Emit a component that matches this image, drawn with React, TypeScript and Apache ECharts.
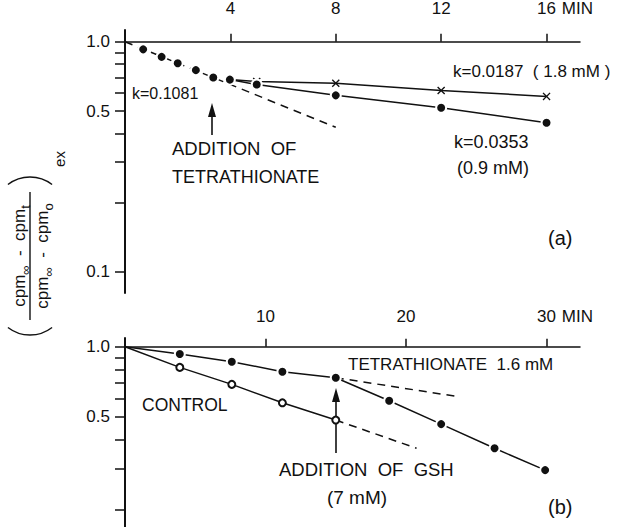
import React, { useEffect, useRef } from "react";
import * as echarts from "echarts";

const FONT = "'Liberation Sans', Arial, sans-serif";
const INK = "#111";

// ---------- Panel (a) ----------
const aInitT = [0.69, 1.39, 2.0, 2.69, 3.35, 3.98];
const aInitV = [0.927, 0.86, 0.807, 0.753, 0.7, 0.685];
const aFitT = [0, 8];
const aFitV = [1.0, 0.425];
const aHighT = [3.98, 5, 8, 12, 16]; // tetrathionate 1.8 mM (x)
const aHighV = [0.685, 0.672, 0.66, 0.614, 0.579];
const aLowT = [3.98, 5, 8, 12, 16]; // tetrathionate 0.9 mM (filled)
const aLowV = [0.685, 0.652, 0.585, 0.517, 0.445];

// ---------- Panel (b) ----------
const bTetraT = [0, 3.9, 7.6, 11.2, 15, 18.8, 22.5, 26.3, 29.9];
const bTetraV = [1.0, 0.93, 0.862, 0.781, 0.736, 0.586, 0.465, 0.366, 0.295];
const bCtrlT = [0, 3.9, 7.6, 11.2, 15];
const bCtrlV = [1.0, 0.815, 0.689, 0.574, 0.484];
const bTetraExtT = [15, 23.8];
const bTetraExtV = [0.736, 0.609];
const bCtrlExtT = [15, 20.75];
const bCtrlExtV = [0.484, 0.366];

// ---------- Axes ----------
const yTicksA = [0.1, 0.2, 0.3, 0.4, 0.5, 0.6, 0.7, 0.8, 0.9, 1.0];
const yTicksB = [0.2, 0.3, 0.4, 0.5, 0.6, 0.7, 0.8, 0.9, 1.0];
const yLabelsA = [0.1, 0.5, 1.0];
const yLabelsB = [0.5, 1.0];
const xTicksA = [4, 8, 12, 16];
const xTicksB = [10, 20, 30];
const xUnitA = 16;
const xUnitB = 30;

const lg = (v: number) => Math.log10(v);
const pts = (ts: number[], vs: number[]) => ts.map((t, i) => [t, lg(vs[i])]);

const XSYM =
  "path://M0,1.2 L1.2,0 L5,3.8 L8.8,0 L10,1.2 L6.2,5 L10,8.8 L8.8,10 L5,6.2 L1.2,10 L0,8.8 L3.8,5 Z";

function xAxisCfg(gridIndex: number, max: number, ticks: number[], unit: number) {
  return {
    type: "value",
    gridIndex,
    position: "top",
    min: 0,
    max,
    axisLine: { show: true, onZero: true, lineStyle: { color: INK, width: 1.5 } },
    axisTick: {
      show: true,
      inside: false,
      length: 8,
      customValues: ticks,
      lineStyle: { color: INK, width: 1.5 },
    },
    axisLabel: {
      customValues: ticks,
      margin: 13,
      color: INK,
      fontSize: 17,
      fontFamily: FONT,
      formatter: (v: number) =>
        Math.abs(v - unit) < 1e-6 ? `{p|}{n|${v}}{m| MIN}` : `${v}`,
      rich: {
        p: { width: 38, fontSize: 17, fontFamily: FONT },
        n: { fontSize: 17, fontFamily: FONT, color: INK },
        m: { width: 38, fontSize: 17, fontFamily: FONT, color: INK },
      },
    },
    splitLine: { show: false },
  };
}

function yAxisCfg(gridIndex: number, min: number, max: number, ticks: number[], labels: number[]) {
  return {
    type: "value",
    gridIndex,
    min,
    max,
    axisLine: { show: true, onZero: false, lineStyle: { color: INK, width: 2 } },
    axisTick: {
      show: true,
      length: 10,
      customValues: ticks.map(lg),
      lineStyle: { color: INK, width: 1.5 },
    },
    axisLabel: {
      customValues: labels.map(lg),
      margin: 15,
      color: INK,
      fontSize: 17,
      fontFamily: FONT,
      formatter: (v: number) => Math.pow(10, v).toFixed(1),
    },
    splitLine: { show: false },
  };
}

const solid = { color: INK, width: 1.5, type: "solid" as const };
const dashed = { color: INK, width: 1.5, type: [8, 6] };
const dotStyle = { color: INK, borderColor: "#fff", borderWidth: 2, opacity: 1 };

function txt(text: string, x: number, y: number, size: number, align = "left") {
  return {
    type: "text",
    x,
    y,
    z: 10,
    style: {
      text,
      fill: INK,
      font: `${size}px ${FONT}`,
      align,
      verticalAlign: "middle",
    },
  };
}

function arrow(x: number, tipY: number, tailY: number) {
  return [
    {
      type: "line",
      z: 1,
      shape: { x1: x, y1: tipY + 10, x2: x, y2: tailY },
      style: { stroke: INK, lineWidth: 1.6 },
    },
    {
      type: "polygon",
      z: 1,
      shape: { points: [[x, tipY], [x - 4, tipY + 14], [x + 4, tipY + 14]] },
      style: { fill: INK },
    },
  ];
}

export default function App() {
  const ref = useRef<HTMLDivElement>(null);
  useEffect(() => {
    if (!ref.current) return;
    const chart = echarts.init(ref.current, null, { renderer: "svg" });
    const hideFirst = (d: number[][]) =>
      d.map((p, i) => (i === 0 ? { value: p, symbol: "none" } : { value: p }));

    const option = {
      animation: false,
      backgroundColor: "#fff",
      textStyle: { fontFamily: FONT },
      grid: [
        { left: 125, top: 27, width: 455, height: 266 },
        { left: 125, top: 338, width: 455, height: 189 },
      ],
      xAxis: [xAxisCfg(0, 17.27, xTicksA, xUnitA), xAxisCfg(1, 32.38, xTicksB, xUnitB)],
      yAxis: [
        yAxisCfg(0, lg(0.081), lg(1.125), yTicksA, yLabelsA),
        yAxisCfg(1, lg(0.168), lg(1.09), yTicksB, yLabelsB),
      ],
      series: [
        // panel (a)
        {
          type: "line",
          xAxisIndex: 0,
          yAxisIndex: 0,
          data: pts(aFitT, aFitV),
          symbol: "none",
          lineStyle: dashed,
          z: 1,
        },
        {
          type: "line",
          xAxisIndex: 0,
          yAxisIndex: 0,
          data: hideFirst(pts(aHighT, aHighV)),
          symbol: XSYM,
          symbolSize: 8,
          showAllSymbol: true,
          itemStyle: { color: INK, opacity: 1 },
          lineStyle: solid,
          z: 2,
        },
        {
          type: "line",
          xAxisIndex: 0,
          yAxisIndex: 0,
          data: hideFirst(pts(aLowT, aLowV)),
          symbol: "circle",
          symbolSize: 10,
          showAllSymbol: true,
          itemStyle: dotStyle,
          lineStyle: solid,
          z: 3,
        },
        {
          type: "scatter",
          xAxisIndex: 0,
          yAxisIndex: 0,
          data: pts(aInitT, aInitV),
          symbol: "circle",
          symbolSize: 10,
          itemStyle: dotStyle,
          z: 4,
        },
        // panel (b)
        {
          type: "line",
          xAxisIndex: 1,
          yAxisIndex: 1,
          data: pts(bTetraExtT, bTetraExtV),
          symbol: "none",
          lineStyle: dashed,
          z: 1,
        },
        {
          type: "line",
          xAxisIndex: 1,
          yAxisIndex: 1,
          data: pts(bCtrlExtT, bCtrlExtV),
          symbol: "none",
          lineStyle: dashed,
          z: 1,
        },
        {
          type: "line",
          xAxisIndex: 1,
          yAxisIndex: 1,
          data: hideFirst(pts(bTetraT, bTetraV)),
          symbol: "circle",
          symbolSize: 10,
          showAllSymbol: true,
          itemStyle: dotStyle,
          lineStyle: solid,
          z: 3,
        },
        {
          type: "line",
          xAxisIndex: 1,
          yAxisIndex: 1,
          data: hideFirst(pts(bCtrlT, bCtrlV)),
          symbol: "emptyCircle",
          symbolSize: 7,
          showAllSymbol: true,
          itemStyle: { color: INK, borderColor: INK, borderWidth: 1.4, opacity: 1 },
          lineStyle: solid,
          z: 3,
        },
      ],
      graphic: [
        // y-axis title (rotated fraction)
        {
          type: "text",
          x: 19,
          y: 256,
          rotation: Math.PI / 2,
          style: {
            text: "cpm{s|∞}  -  cpm{s|t}",
            fill: INK,
            font: `17px ${FONT}`,
            align: "center",
            verticalAlign: "middle",
            rich: {
              s: { fontSize: 13, fontFamily: FONT, fill: INK, verticalAlign: "bottom", lineHeight: 26 },
            },
          },
        },
        {
          type: "line",
          shape: { x1: 30, y1: 192, x2: 30, y2: 320 },
          style: { stroke: INK, lineWidth: 1.4 },
        },
        {
          type: "text",
          x: 42,
          y: 256,
          rotation: Math.PI / 2,
          style: {
            text: "cpm{s|∞}  -  cpm{s|o}",
            fill: INK,
            font: `17px ${FONT}`,
            align: "center",
            verticalAlign: "middle",
            rich: {
              s: { fontSize: 13, fontFamily: FONT, fill: INK, verticalAlign: "bottom", lineHeight: 26 },
            },
          },
        },
        {
          type: "arc",
          shape: { cx: 30, cy: 299, r: 36, startAngle: Math.PI / 2 - 0.66, endAngle: Math.PI / 2 + 0.66 },
          style: { stroke: INK, lineWidth: 1.4, fill: null },
        },
        {
          type: "arc",
          shape: { cx: 30, cy: 213, r: 36, startAngle: (3 * Math.PI) / 2 - 0.66, endAngle: (3 * Math.PI) / 2 + 0.66 },
          style: { stroke: INK, lineWidth: 1.4, fill: null },
        },
        {
          type: "text",
          x: 59,
          y: 159,
          rotation: Math.PI / 2,
          style: { text: "ex", fill: INK, font: `15px ${FONT}`, align: "center", verticalAlign: "middle" },
        },
        // panel (a) annotations
        txt("k=0.1081", 132, 93, 16),
        txt("ADDITION  OF", 172, 148, 18.5),
        txt("TETRATHIONATE", 172, 177, 18),
        ...arrow(212, 103, 135),
        txt("k=0.0187  ( 1.8 mM )", 453, 71, 17),
        txt("k=0.0353", 454, 142, 18),
        txt("(0.9 mM)", 457, 168, 18),
        txt("(a)", 548, 238, 20),
        // panel (b) annotations
        txt("CONTROL", 142, 405, 17.5),
        txt("TETRATHIONATE  1.6 mM", 348, 364, 17),
        txt("ADDITION  OF  GSH", 279, 469, 18.5),
        txt("(7 mM)", 357, 497, 19, "center"),
        txt("(b)", 548, 507, 20),
        ...arrow(336, 388, 453),
      ],
    };
    chart.setOption(option as any);
    return () => chart.dispose();
  }, []);
  return (
    <div
      ref={ref}
      style={{ position: "fixed", left: 0, top: 0, width: 617, height: 527, background: "#fff" }}
    />
  );
}
